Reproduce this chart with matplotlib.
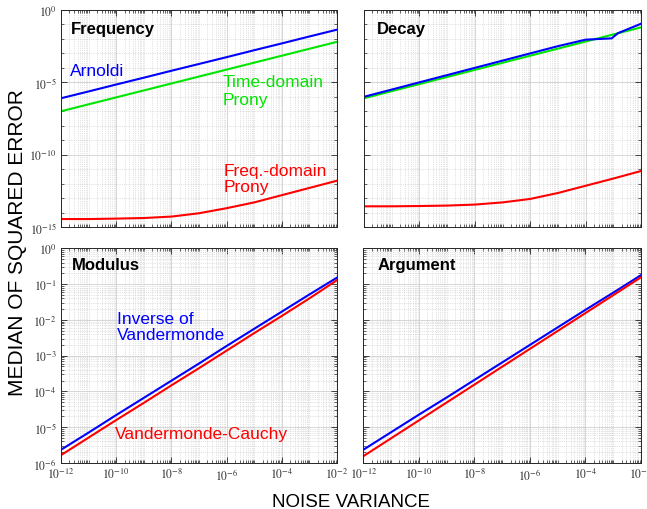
import numpy as np
import matplotlib
matplotlib.use("Agg")
import matplotlib.pyplot as plt
from matplotlib.ticker import FixedLocator, LogLocator, FuncFormatter, NullFormatter

plt.rcParams['font.family'] = ['Liberation Sans', 'DejaVu Sans']
plt.rcParams['mathtext.fontset'] = 'stix'

# ---------------- data (log10 values) ----------------
noise_exp = [-12, -11, -10, -9, -8, -7, -6, -5, -4, -3, -2]

freq_arnoldi = [-6.10, -5.63, -5.15, -4.68, -4.20, -3.73, -3.26, -2.78, -2.31, -1.83, -1.36]
freq_time_prony = [-7.00, -6.52, -6.04, -5.56, -5.08, -4.60, -4.12, -3.64, -3.16, -2.68, -2.20]
freq_freq_prony = [-14.45, -14.45, -14.42, -14.38, -14.28, -14.05, -13.70, -13.30, -12.80, -12.30, -11.80]

decay_arnoldi_exp = [-12, -10, -8, -6, -5, -4, -3.06, -2.83, -2]
decay_arnoldi = [-6.00, -5.00, -4.00, -3.00, -2.50, -2.05, -1.96, -1.60, -0.95]
decay_time_prony = [-6.10, -5.61, -5.12, -4.63, -4.14, -3.65, -3.16, -2.67, -2.18, -1.69, -1.20]
decay_freq_prony = [-13.57, -13.57, -13.55, -13.52, -13.45, -13.30, -13.06, -12.65, -12.15, -11.65, -11.13]

mod_inverse = [-5.63, -5.15, -4.66, -4.18, -3.70, -3.22, -2.73, -2.25, -1.77, -1.29, -0.82]
mod_cauchy = [-5.78, -5.29, -4.80, -4.32, -3.83, -3.35, -2.86, -2.37, -1.89, -1.40, -0.89]

arg_inverse = [-5.63, -5.14, -4.65, -4.17, -3.68, -3.19, -2.70, -2.21, -1.72, -1.24, -0.75]
arg_cauchy = [-5.81, -5.31, -4.81, -4.31, -3.81, -3.31, -2.81, -2.31, -1.81, -1.31, -0.81]

xticks_exp = [-12, -10, -8, -6, -4, -2]
top_yticks_exp = [-15, -10, -5, 0]
bot_yticks_exp = [-6, -5, -4, -3, -2, -1, 0]

BLUE = '#0000ff'
GREEN = '#00e600'
RED = '#ff0000'

def p10(a):
    return 10.0 ** np.asarray(a, dtype=float)

def sci_fmt(v, pos=None):
    e = int(round(np.log10(v)))
    return r'$10^{%d}$' % e

W, H = 647, 510
fig = plt.figure(figsize=(W / 100, H / 100), dpi=100)

def make_ax(x0, x1, y0, y1):
    return fig.add_axes([x0 / W, 1 - y1 / H, (x1 - x0) / W, (y1 - y0) / H])

ax_f = make_ax(61, 337, 11, 228)
ax_d = make_ax(364, 641, 11, 228)
ax_m = make_ax(61, 337, 249.3, 464)
ax_a = make_ax(363.3, 641, 249.3, 464)

def style(ax, top, show_x, show_y):
    ax.set_xscale('log')
    ax.set_yscale('log')
    ax.set_xlim(1e-12, 1e-2)
    if top:
        ax.set_ylim(1e-15, 1e0)
        ax.yaxis.set_major_locator(FixedLocator(p10(top_yticks_exp)))
        ax.yaxis.set_minor_locator(FixedLocator(p10(np.arange(-15, 1))))
    else:
        ax.set_ylim(1e-6, 1e0)
        ax.yaxis.set_major_locator(FixedLocator(p10(bot_yticks_exp)))
        ax.yaxis.set_minor_locator(LogLocator(base=10, subs=np.arange(2, 10), numticks=100))
    ax.xaxis.set_major_locator(FixedLocator(p10(xticks_exp)))
    ax.xaxis.set_minor_locator(LogLocator(base=10, subs=np.arange(1, 10), numticks=100))
    ax.xaxis.set_minor_formatter(NullFormatter())
    ax.yaxis.set_minor_formatter(NullFormatter())
    ax.xaxis.set_major_formatter(FuncFormatter(sci_fmt) if show_x else NullFormatter())
    ax.yaxis.set_major_formatter(FuncFormatter(sci_fmt) if show_y else NullFormatter())
    ax.tick_params(which='both', direction='in', top=True, right=True,
                   colors='#262626', labelsize=8.5, labelcolor='#333333')
    ax.tick_params(which='major', length=4, width=0.6, pad=3)
    ax.tick_params(which='minor', length=2, width=0.5)
    ax.grid(True, which='major', color='#d0d0d0', linestyle='-', linewidth=0.6)
    ax.grid(True, which='minor', color='#c8c8c8', linestyle=':', linewidth=0.5)
    ax.set_axisbelow(True)
    for s in ax.spines.values():
        s.set_color('#262626')
        s.set_linewidth(0.7)

style(ax_f, True, False, True)
style(ax_d, True, False, False)
style(ax_m, False, True, True)
style(ax_a, False, True, False)

lw = 1.5
nx = p10(noise_exp)

ax_f.plot(nx, p10(freq_arnoldi), color=BLUE, lw=lw)
ax_f.plot(nx, p10(freq_time_prony), color=GREEN, lw=lw)
ax_f.plot(nx, p10(freq_freq_prony), color=RED, lw=lw)

ax_d.plot(nx, p10(decay_time_prony), color=GREEN, lw=lw)
ax_d.plot(p10(decay_arnoldi_exp), p10(decay_arnoldi), color=BLUE, lw=lw)
ax_d.plot(nx, p10(decay_freq_prony), color=RED, lw=lw)

ax_m.plot(nx, p10(mod_inverse), color=BLUE, lw=lw)
ax_m.plot(nx, p10(mod_cauchy), color=RED, lw=lw)

ax_a.plot(nx, p10(arg_inverse), color=BLUE, lw=lw)
ax_a.plot(nx, p10(arg_cauchy), color=RED, lw=lw)

tfs = 12.5
def label(ax, x, y, s, color, bold=False, size=tfs):
    ax.text(x, y, s, transform=ax.transAxes, color=color, fontsize=size,
            fontweight='bold' if bold else 'normal', ha='left', va='baseline')

label(ax_f, 0.036, 0.893, 'Frequency', 'black', bold=True, size=12)
label(ax_f, 0.033, 0.700, 'Arnoldi', BLUE)
label(ax_f, 0.586, 0.648, 'Time-domain', GREEN)
label(ax_f, 0.586, 0.565, 'Prony', GREEN)
label(ax_f, 0.588, 0.240, 'Freq.-domain', RED)
label(ax_f, 0.588, 0.167, 'Prony', RED)

label(ax_d, 0.048, 0.893, 'Decay', 'black', bold=True, size=12)

label(ax_m, 0.039, 0.904, 'Modulus', 'black', bold=True, size=12)
label(ax_m, 0.202, 0.652, 'Inverse of', BLUE)
label(ax_m, 0.202, 0.578, 'Vandermonde', BLUE)
label(ax_m, 0.197, 0.116, 'Vandermonde-Cauchy', RED)

label(ax_a, 0.050, 0.904, 'Argument', 'black', bold=True, size=12)

fig.text(351 / W, 1 - 507 / H, 'NOISE VARIANCE', ha='center', va='baseline',
         fontsize=13.5, color='black')
fig.text(17.5 / W, 1 - 242.5 / H, 'MEDIAN OF SQUARED ERROR', ha='center', va='center',
         rotation=90, fontsize=15, color='black')

fig.savefig('out.png', dpi=100)
